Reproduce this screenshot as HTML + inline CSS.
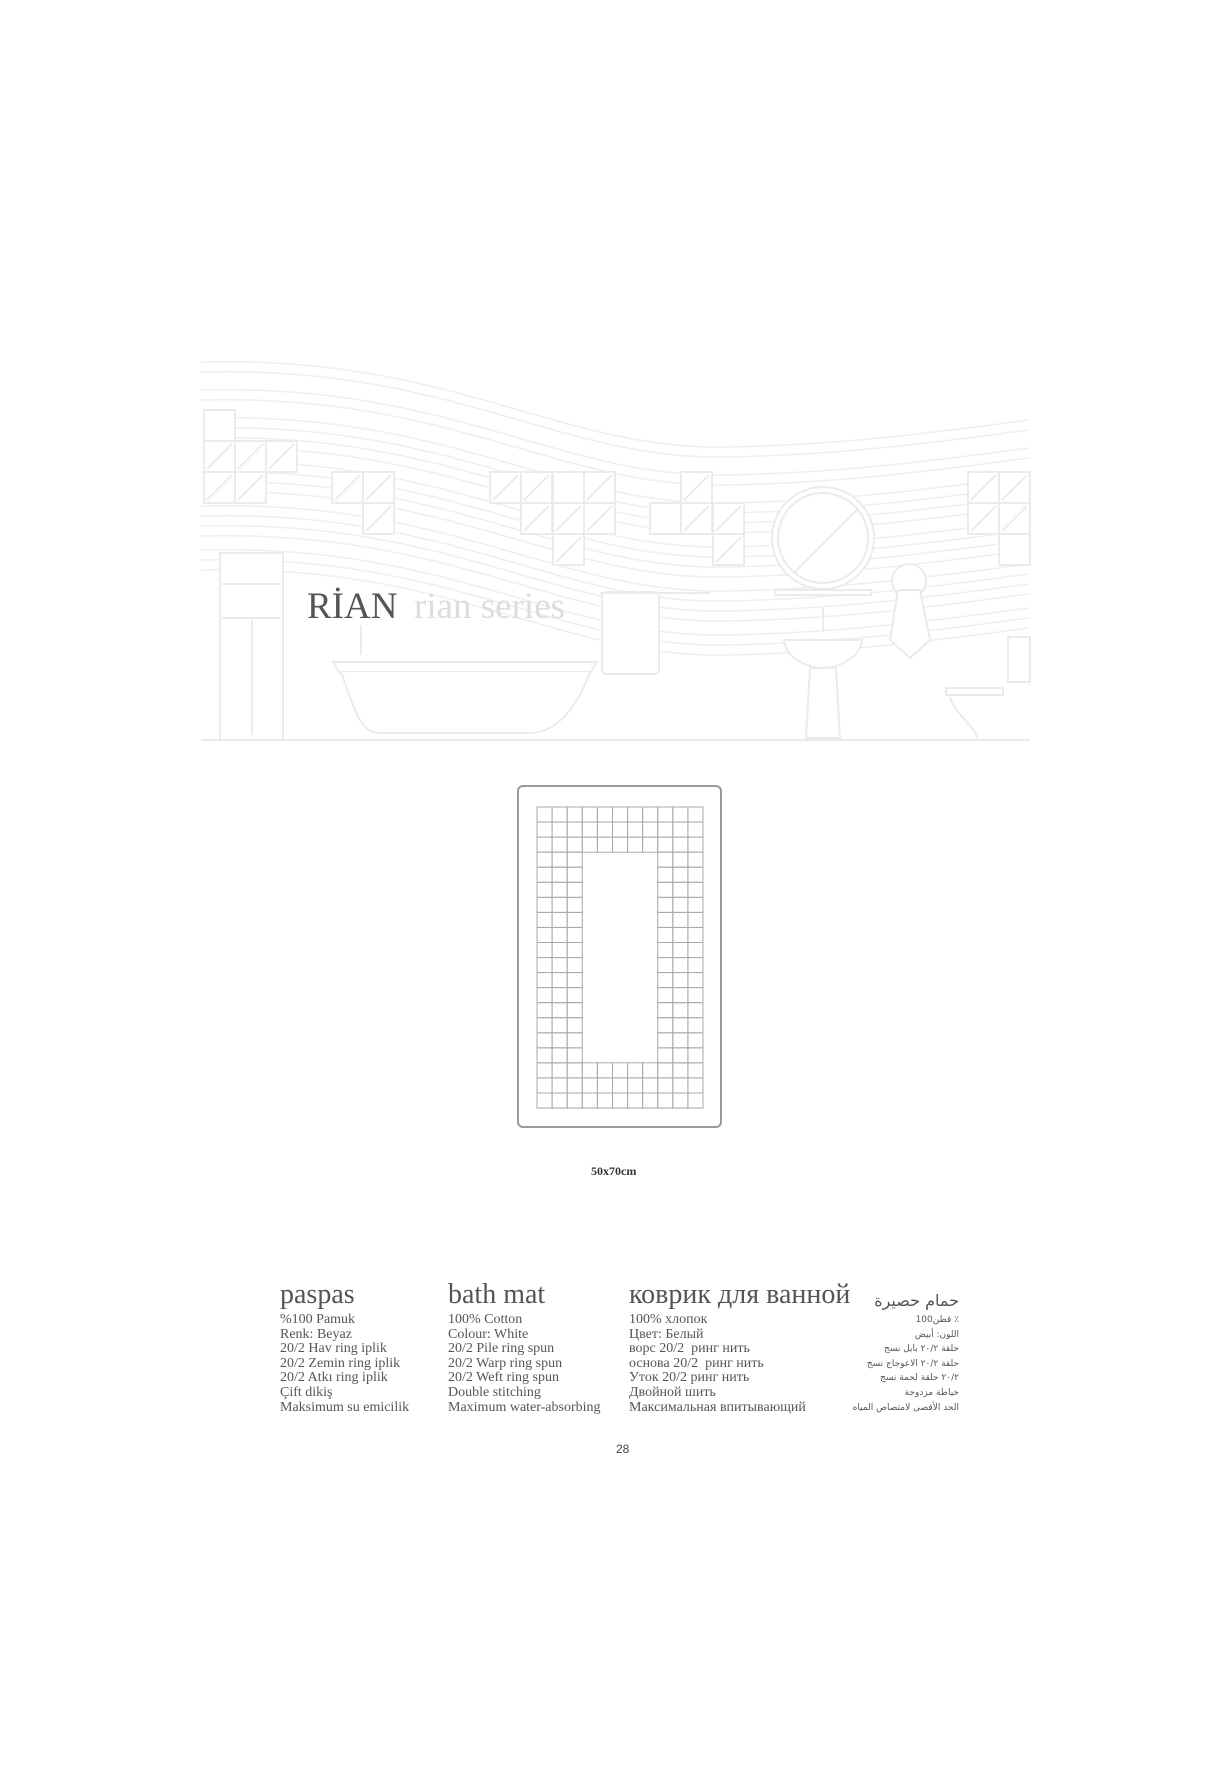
<!DOCTYPE html>
<html><head><meta charset="utf-8"><style>
body{margin:0;background:#fff;width:1229px;height:1778px;position:relative;overflow:hidden;font-family:"Liberation Serif",serif;}
.t{position:absolute;white-space:nowrap;color:#444;}
.h{font-size:28px;color:#555;top:1279px;}
.b{font-size:14px;line-height:14.6px;top:1313px;color:#555;}
</style></head><body>
<svg width="1229" height="1778" style="position:absolute;left:0;top:0">
<defs>
<path id="w" d="M201,362 C450,355 560,450 724,447 C850,445 950,430 1030,420" fill="none"/>
<g id="tl"><rect x="0" y="0" width="31" height="31"/><line x1="3" y1="28" x2="28" y2="3"/></g>
</defs>
<g stroke="#efefef" stroke-width="1.5" fill="none">
<use href="#w"/><use href="#w" y="10"/><use href="#w" y="28"/><use href="#w" y="38"/>
<use href="#w" y="56"/><use href="#w" y="66"/><use href="#w" y="76"/><use href="#w" y="86"/>
<use href="#w" y="100"/><use href="#w" y="110"/><use href="#w" y="120"/><use href="#w" y="130"/>
<use href="#w" y="144"/><use href="#w" y="154"/><use href="#w" y="164"/><use href="#w" y="174"/>
<use href="#w" y="188"/><use href="#w" y="198"/><use href="#w" y="208"/>
</g>
<g stroke="#ebebeb" stroke-width="2" fill="#fff">
<rect x="204" y="410" width="31" height="31"/>
<use href="#tl" x="204" y="441"/><use href="#tl" x="235" y="441"/><use href="#tl" x="266" y="441"/>
<use href="#tl" x="204" y="472"/><use href="#tl" x="235" y="472"/>
<use href="#tl" x="332" y="472"/><use href="#tl" x="363" y="472"/><use href="#tl" x="363" y="503"/>
<use href="#tl" x="490" y="472"/><use href="#tl" x="521" y="472"/><use href="#tl" x="584" y="472"/>
<rect x="553" y="472" width="31" height="31"/>
<use href="#tl" x="521" y="503"/><use href="#tl" x="553" y="503"/><use href="#tl" x="584" y="503"/>
<use href="#tl" x="553" y="534"/>
<use href="#tl" x="681" y="472"/><use href="#tl" x="681" y="503"/><use href="#tl" x="713" y="503"/><use href="#tl" x="713" y="534"/>
<rect x="650" y="503" width="31" height="31"/>
<use href="#tl" x="968" y="472"/><use href="#tl" x="999" y="472"/><use href="#tl" x="968" y="503"/><use href="#tl" x="999" y="503"/>
<rect x="999" y="534" width="31" height="31"/>
<circle cx="823" cy="538" r="51"/><circle cx="823" cy="538" r="45"/><line x1="793" y1="574" x2="857" y2="510"/>
<rect x="775" y="590" width="96" height="5"/>
<rect x="220" y="553" width="63" height="187"/>
<line x1="222" y1="584" x2="281" y2="584"/><line x1="222" y1="618" x2="281" y2="618"/><line x1="252" y1="620" x2="252" y2="735"/>
<path d="M333,662 L597,662 L591,672 L339,672 Z"/>
<path d="M341,672 C355,710 360,733 380,733 L530,733 C560,733 580,700 590,672"/>
<line x1="361" y1="625" x2="361" y2="655"/>
<rect x="602" y="592" width="57" height="82" rx="4"/>
<line x1="600" y1="593" x2="710" y2="593"/>
<path d="M784,640 L862,640 C860,660 835,668 823,668 C810,668 786,660 784,640 Z"/>
<path d="M810,668 L836,668 L840,738 L806,738 Z"/>
<line x1="823" y1="608" x2="823" y2="632"/>
<circle cx="909" cy="581" r="17"/>
<path d="M898,590 L920,590 L930,640 L910,658 L890,640 Z"/>
<rect x="1008" y="637" width="22" height="45"/>
<path d="M946,688 L1003,688 L1003,695 L946,695 Z"/>
<path d="M950,697 C955,715 975,725 978,740"/>
<line x1="201" y1="740" x2="1030" y2="740"/>
</g>
<rect x="518" y="786" width="203" height="341" rx="5" fill="none" stroke="#999" stroke-width="2"/>
<rect x="537" y="807" width="166" height="301" stroke="#aaa" stroke-width="1" fill="none"/>
<g id="grid" stroke="#aaa" stroke-width="1"></g>
</svg>
<script>
(function(){var g=document.getElementById('grid'),x0=537,y0=807,cw=166/11,ch=301/20,s='';
for(var r=0;r<20;r++)for(var c=0;c<11;c++){if(r>=3&&r<=16&&c>=3&&c<=7)continue;
s+='<rect x="'+(x0+c*cw).toFixed(1)+'" y="'+(y0+r*ch).toFixed(1)+'" width="'+cw.toFixed(1)+'" height="'+ch.toFixed(1)+'" fill="none"/>';}
g.innerHTML=s;})();
</script>
<div class="t" style="left:307px;top:585px;font-size:37px;color:#555;">RİAN</div>
<div class="t" style="left:414px;top:585px;font-size:37px;color:#ddd;">rian series</div>
<div class="t" style="left:591px;top:1164px;font-size:12px;font-weight:bold;color:#333;">50x70cm</div>
<div class="t h" style="left:280px;">paspas</div>
<div class="t h" style="left:448px;">bath mat</div>
<div class="t h" style="left:629px;">коврик для ванной</div>
<div class="t h" style="right:270px;font-family:'DejaVu Sans',sans-serif;font-size:16px;top:1291px;">حمام حصيرة</div>
<div class="t b" style="left:280px;">%100 Pamuk<br>Renk: Beyaz<br>20/2 Hav ring iplik<br>20/2 Zemin ring iplik<br>20/2 Atkı ring iplik<br>Çift dikiş<br>Maksimum su emicilik</div>
<div class="t b" style="left:448px;">100% Cotton<br>Colour: White<br>20/2 Pile ring spun<br>20/2 Warp ring spun<br>20/2 Weft ring spun<br>Double stitching<br>Maximum water-absorbing</div>
<div class="t b" style="left:629px;">100% хлопок<br>Цвет: Белый<br>ворс 20/2&nbsp; ринг нить<br>основа 20/2&nbsp; ринг нить<br>Уток 20/2 ринг нить<br>Двойной шить<br>Максимальная впитывающий</div>
<div class="t b" style="right:270px;text-align:right;font-family:'DejaVu Sans',sans-serif;font-size:9px;direction:rtl;">٪ قطن100<br>اللون: أبيض<br>حلقة ٢٠/٢ بايل نسج<br>حلقة ٢٠/٢ الاعوجاج نسج<br>٢٠/٢ حلقة لحمة نسج<br>خياطة مزدوجة<br>الحد الأقصى لامتصاص المياه</div>
<div class="t" style="left:616px;top:1442px;font-family:'Liberation Sans',sans-serif;font-size:12px;color:#444;">28</div>
</body></html>
